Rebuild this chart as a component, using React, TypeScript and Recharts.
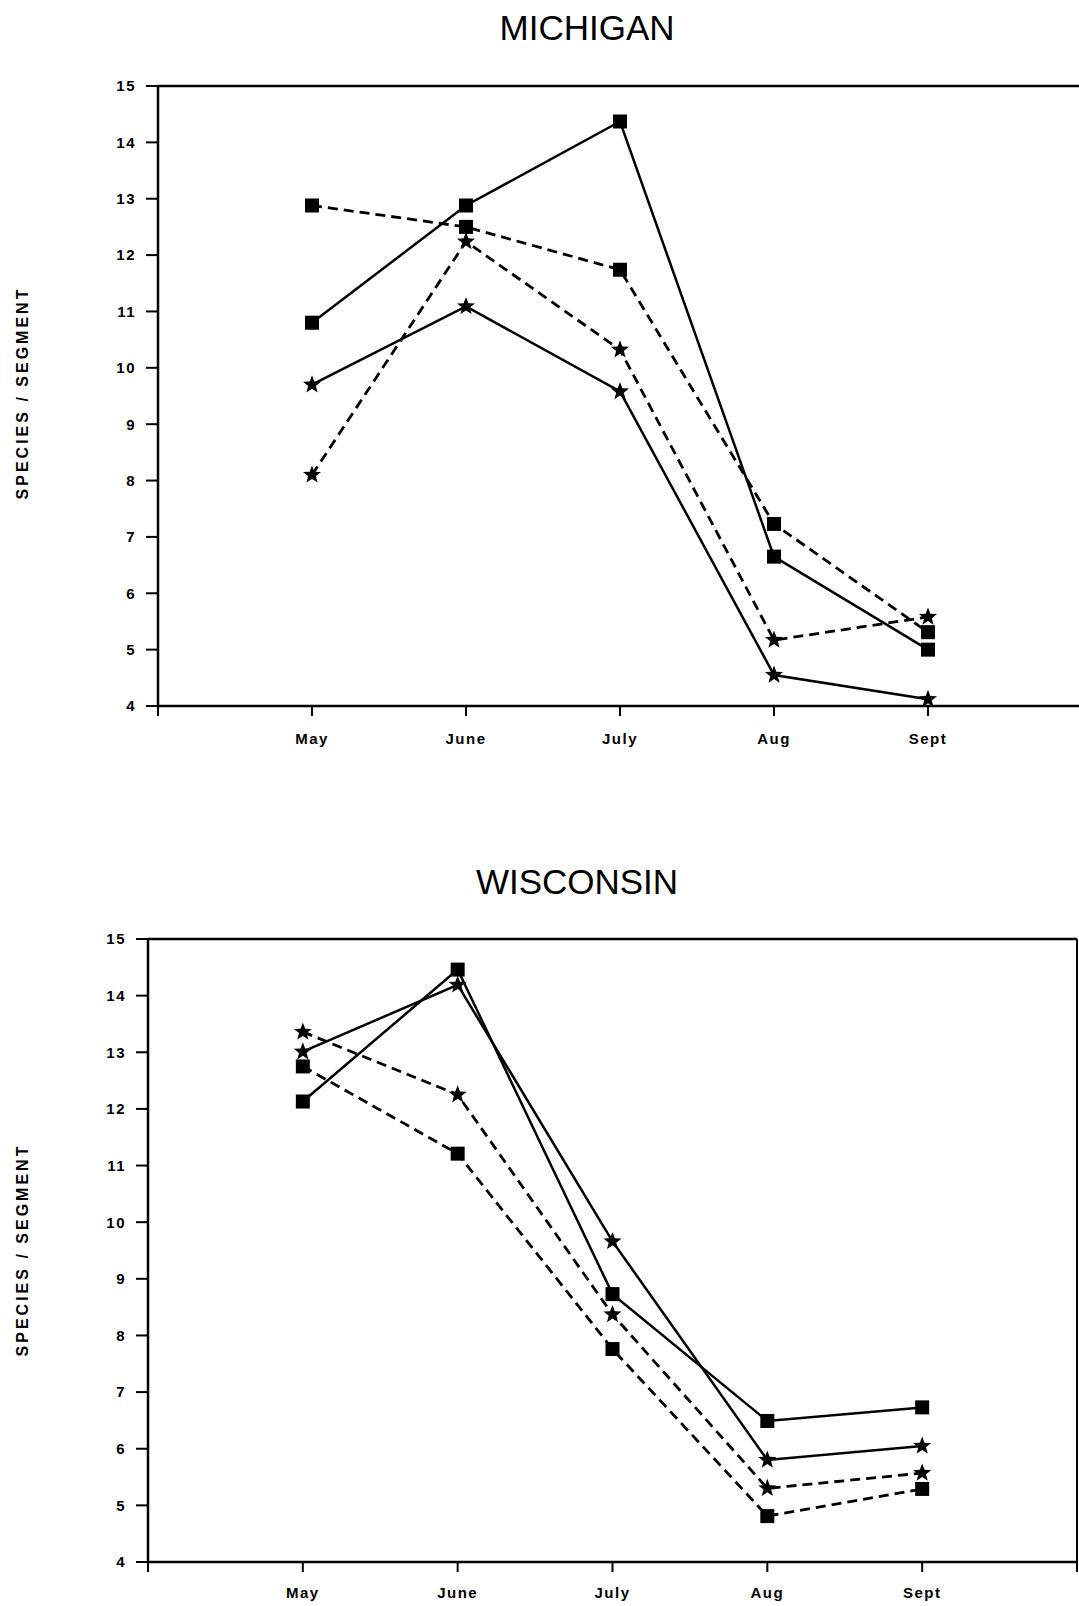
import React from 'react';
import { LineChart, Line, XAxis, YAxis, ReferenceLine } from 'recharts';

const months = ['May', 'June', 'July', 'Aug', 'Sept'];
const monthPos = [1, 2, 3, 4, 5];
const xTicks = [0, 1, 2, 3, 4, 5, 6];
const yTicks = [4, 5, 6, 7, 8, 9, 10, 11, 12, 13, 14, 15];

// Michigan
const miSolidSquare = [10.8, 12.88, 14.37, 6.65, 5.0];
const miDashSquare = [12.88, 12.5, 11.74, 7.23, 5.31];
const miSolidStar = [9.7, 11.09, 9.58, 4.55, 4.12];
const miDashStar = [8.1, 12.24, 10.32, 5.17, 5.58];

// Wisconsin
const wiSolidSquare = [12.13, 14.46, 8.73, 6.49, 6.73];
const wiSolidStar = [13.01, 14.19, 9.66, 5.8, 6.05];
const wiDashStar = [13.36, 12.25, 8.37, 5.3, 5.57];
const wiDashSquare = [12.75, 11.21, 7.76, 4.81, 5.29];

const build = (a, b, c, d) =>
  monthPos.map((x, i) => ({ x, a: a[i], b: b[i], c: c[i], d: d[i] }));

const miData = build(miSolidSquare, miDashSquare, miSolidStar, miDashStar);
const wiData = build(wiSolidSquare, wiDashSquare, wiSolidStar, wiDashStar);

const tickFont = {
  fill: '#000',
  fontSize: 15,
  fontWeight: 700,
  fontFamily: 'Liberation Sans, Arial, sans-serif',
  letterSpacing: 1.5,
};

const squareDot = (p) => {
  if (p.cx == null || p.cy == null) return null;
  return <rect key={`sq-${p.dataKey}-${p.index}`} x={p.cx - 7} y={p.cy - 7} width={14} height={14} fill="#000" />;
};

const starDot = (p) => {
  if (p.cx == null || p.cy == null) return null;
  const pts = [];
  for (let k = 0; k < 10; k++) {
    const r = k % 2 === 0 ? 9.5 : 4;
    const ang = -Math.PI / 2 + (k * Math.PI) / 5;
    pts.push(`${p.cx + r * Math.cos(ang)},${p.cy + r * Math.sin(ang)}`);
  }
  return <polygon key={`st-${p.dataKey}-${p.index}`} points={pts.join(' ')} fill="#000" />;
};

const monthLabel = (v) => months[v - 1] ?? '';

function Panel({ data, width, height, margin, xLabelGap, rightBorder }) {
  return (
    <LineChart width={width} height={height} data={data} margin={margin}>
      <XAxis
        type="number"
        dataKey="x"
        domain={[0, 6]}
        ticks={xTicks}
        interval={0}
        tickFormatter={monthLabel}
        tickSize={10}
        tickMargin={xLabelGap}
        height={50}
        axisLine={{ stroke: '#000', strokeWidth: 2.5 }}
        tickLine={{ stroke: '#000', strokeWidth: 2 }}
        tick={tickFont}
      />
      <YAxis
        type="number"
        domain={[4, 15]}
        ticks={yTicks}
        interval={0}
        tickSize={12}
        tickMargin={10}
        width={40}
        axisLine={{ stroke: '#000', strokeWidth: 2.5 }}
        tickLine={{ stroke: '#000', strokeWidth: 2 }}
        tick={tickFont}
      />
      <ReferenceLine y={15} stroke="#000" strokeWidth={2.5} />
      {rightBorder && <ReferenceLine x={6} stroke="#000" strokeWidth={2} />}
      <Line dataKey="a" stroke="#000" strokeWidth={2.5} dot={squareDot} isAnimationActive={false} />
      <Line dataKey="b" stroke="#000" strokeWidth={2.8} strokeDasharray="10 6" dot={squareDot} isAnimationActive={false} />
      <Line dataKey="c" stroke="#000" strokeWidth={2.5} dot={starDot} isAnimationActive={false} />
      <Line dataKey="d" stroke="#000" strokeWidth={2.8} strokeDasharray="10 6" dot={starDot} isAnimationActive={false} />
    </LineChart>
  );
}

const titleStyle = {
  position: 'absolute',
  transform: 'translateX(-50%)',
  fontFamily: 'Liberation Sans, Arial, sans-serif',
  fontSize: 35,
  lineHeight: '35px',
  fontWeight: 300,
  whiteSpace: 'nowrap',
  color: '#000',
};

const yLabelStyle = {
  position: 'absolute',
  transform: 'translate(-50%, -50%) rotate(-90deg)',
  fontFamily: 'Liberation Sans, Arial, sans-serif',
  fontSize: 16,
  fontWeight: 700,
  letterSpacing: 3,
  whiteSpace: 'nowrap',
  color: '#000',
};

export default function App() {
  return (
    <div style={{ position: 'absolute', left: 0, top: 0, width: 1079, height: 1606, overflow: 'hidden', background: '#fff' }}>
      <div style={{ ...titleStyle, left: 587, top: 10 }}>MICHIGAN</div>
      <div style={{ ...yLabelStyle, left: 23, top: 393 }}>SPECIES / SEGMENT</div>
      <div style={{ position: 'absolute', left: 0, top: 0 }}>
        <Panel
          data={miData}
          width={1090}
          height={780}
          margin={{ top: 86, right: 8, left: 118, bottom: 24 }}
          xLabelGap={17}
          rightBorder={false}
        />
      </div>

      <div style={{ ...titleStyle, left: 577, top: 864 }}>WISCONSIN</div>
      <div style={{ ...yLabelStyle, left: 23, top: 1250 }}>SPECIES / SEGMENT</div>
      <div style={{ position: 'absolute', left: 0, top: 820 }}>
        <Panel
          data={wiData}
          width={1079}
          height={786}
          margin={{ top: 119, right: 2, left: 108, bottom: -6 }}
          xLabelGap={15}
          rightBorder={true}
        />
      </div>
    </div>
  );
}
